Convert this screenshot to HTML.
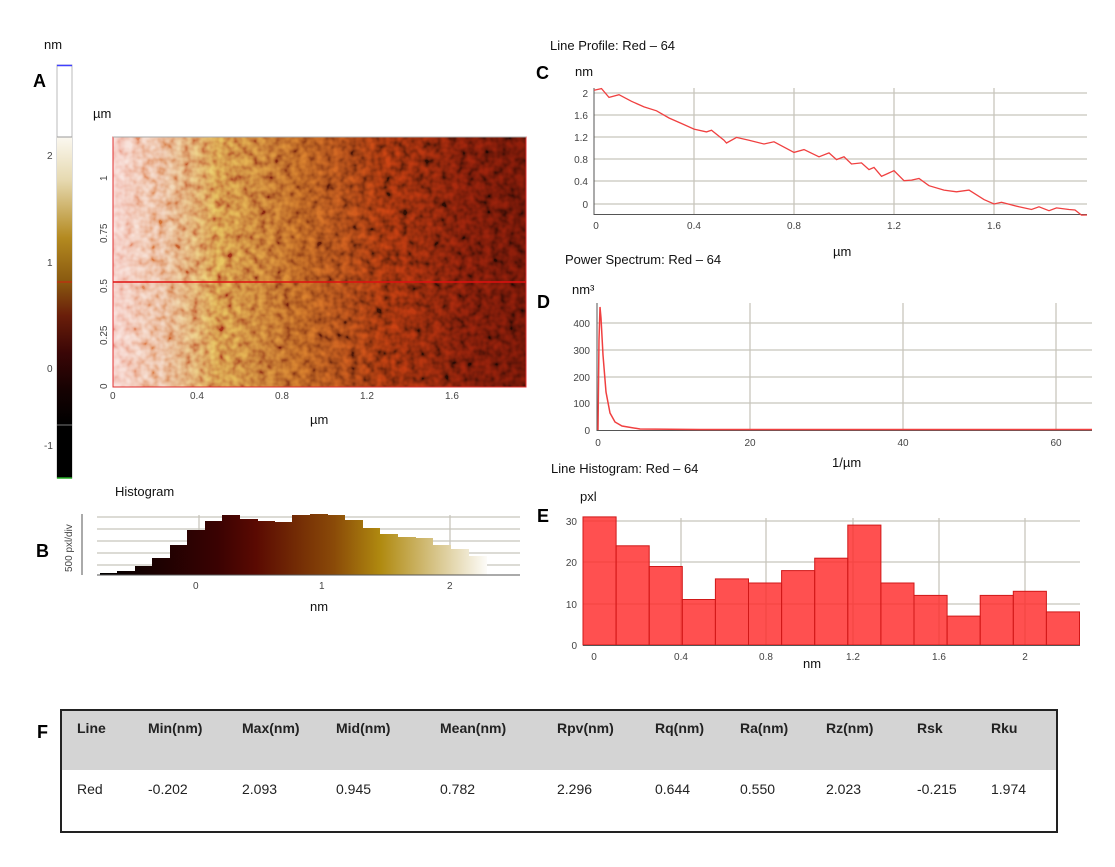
<!DOCTYPE html>
<html><head><meta charset="utf-8"><style>
html,body{margin:0;padding:0;background:#fff;}
svg{display:block;font-family:"Liberation Sans",sans-serif;}
.t{font-size:10px;fill:#444;}
.l{font-size:13px;fill:#111;}
.p{font-size:18px;font-weight:bold;fill:#000;}
.g{stroke:#c8c5bc;stroke-width:1.3;}
</style></head><body>
<svg width="1115" height="867" viewBox="0 0 1115 867">
<defs>
<linearGradient id="afm" x1="0" x2="1" y1="0" y2="0">
<stop offset="0" stop-color="#f4c4bc"/><stop offset="0.1" stop-color="#e8ac88"/><stop offset="0.25" stop-color="#cc8040"/><stop offset="0.45" stop-color="#a8541e"/><stop offset="0.65" stop-color="#842c0c"/><stop offset="0.85" stop-color="#681808"/><stop offset="1" stop-color="#5a1206"/></linearGradient>
<linearGradient id="cb" x1="0" x2="0" y1="0" y2="1">
<stop offset="0" stop-color="#fbf8f0"/><stop offset="0.15" stop-color="#e6d9b0"/><stop offset="0.35" stop-color="#b48a20"/><stop offset="0.5" stop-color="#8a5a10"/><stop offset="0.62" stop-color="#6a1e0a"/><stop offset="0.75" stop-color="#3a0606"/><stop offset="0.88" stop-color="#150202"/><stop offset="1" stop-color="#000"/></linearGradient>
<linearGradient id="hb" x1="100" x2="490" y1="0" y2="0" gradientUnits="userSpaceOnUse">
<stop offset="0" stop-color="#000"/><stop offset="0.3" stop-color="#3a0202"/><stop offset="0.4" stop-color="#5a0a02"/><stop offset="0.6" stop-color="#8a4a08"/><stop offset="0.72" stop-color="#b08a10"/><stop offset="0.85" stop-color="#d4c080"/><stop offset="1" stop-color="#fff"/></linearGradient>
<filter id="nz" x="0" y="0" width="100%" height="100%">
<feTurbulence type="fractalNoise" baseFrequency="0.12" numOctaves="2" seed="3"/>
<feColorMatrix type="matrix" values="1.6 0 0 0 -0.3 1.6 0 0 0 -0.3 1.6 0 0 0 -0.3 0 0 0 0 1"/>
</filter>
</defs>

<!-- Panel A -->
<text x="44" y="49" class="l">nm</text>
<text x="33" y="87" class="p">A</text>
<rect x="57" y="65" width="15" height="413" fill="#fff" stroke="#bbb"/>
<line x1="57" y1="65.5" x2="72" y2="65.5" stroke="#4040ff" stroke-width="1.5"/>
<rect x="57" y="137" width="15" height="288" fill="url(#cb)"/>
<rect x="57" y="425" width="15" height="53" fill="#000"/>
<line x1="57" y1="137" x2="72" y2="137" stroke="#999"/>
<line x1="57" y1="425" x2="72" y2="425" stroke="#777"/>
<line x1="57" y1="282" x2="72" y2="282" stroke="#d02010"/>
<line x1="57" y1="478" x2="72" y2="478" stroke="#2a2" stroke-width="1.5"/>
<text x="47" y="159" class="t">2</text><text x="47" y="266" class="t">1</text><text x="47" y="372" class="t">0</text><text x="44" y="449" class="t">-1</text>

<text x="93" y="118" class="l">µm</text>
<rect x="113" y="137" width="413" height="250" fill="url(#afm)"/>
<rect x="113" y="137" width="413" height="250" filter="url(#nz)" opacity="0.6" style="mix-blend-mode:overlay"/>
<rect x="113" y="137" width="413" height="250" fill="none" stroke="#e03030" stroke-width="1"/>
<line x1="113" y1="137" x2="526" y2="137" stroke="#aaa"/>
<line x1="113" y1="282" x2="526" y2="282" stroke="#e01010" stroke-width="1.5"/>
<g class="t">
<text x="110" y="399">0</text><text x="190" y="399">0.4</text><text x="275" y="399">0.8</text><text x="360" y="399">1.2</text><text x="445" y="399">1.6</text>
<text transform="translate(107,181) rotate(-90)">1</text>
<text transform="translate(107,243) rotate(-90)">0.75</text>
<text transform="translate(107,293) rotate(-90)">0.5</text>
<text transform="translate(107,345) rotate(-90)">0.25</text>
<text transform="translate(107,389) rotate(-90)">0</text>
</g>
<text x="310" y="424" class="l">µm</text>

<!-- Panel B -->
<text x="115" y="496" class="l">Histogram</text>
<text x="36" y="557" class="p">B</text>
<g class="g">
<line x1="97" y1="517" x2="520" y2="517"/><line x1="97" y1="529" x2="520" y2="529"/><line x1="97" y1="541" x2="520" y2="541"/><line x1="97" y1="553" x2="520" y2="553"/><line x1="97" y1="565" x2="520" y2="565"/>
<line x1="199" y1="515" x2="199" y2="575"/><line x1="450" y1="515" x2="450" y2="575"/>
</g>
<path fill="url(#hb)" d="M100 575 V573 H117 V571 H135 V566 H152 V558 H170 V545 H187 V530 H205 V521 H222 V515 H240 V519 H258 V521 H275 V522 H292 V515 H310 V514 H328 V515 H345 V520 H363 V528 H380 V534 H398 V537 H416 V538 H433 V545 H451 V549 H469 V556 H487 V575 Z"/>
<line x1="97" y1="575" x2="520" y2="575" stroke="#555"/>
<line x1="82" y1="514" x2="82" y2="575" stroke="#555"/>
<text transform="translate(72,572) rotate(-90)" class="t">500 pxl/div</text>
<g class="t"><text x="193" y="589">0</text><text x="319" y="589">1</text><text x="447" y="589">2</text></g>
<text x="310" y="611" class="l">nm</text>

<!-- Panel C -->
<text x="550" y="50" class="l">Line Profile: Red – 64</text>
<text x="536" y="79" class="p">C</text>
<text x="575" y="76" class="l">nm</text>
<g class="g">
<line x1="594" y1="93" x2="1087" y2="93"/><line x1="594" y1="115" x2="1087" y2="115"/><line x1="594" y1="137" x2="1087" y2="137"/><line x1="594" y1="159" x2="1087" y2="159"/><line x1="594" y1="181" x2="1087" y2="181"/><line x1="594" y1="204" x2="1087" y2="204"/>
<line x1="694" y1="88" x2="694" y2="214"/><line x1="794" y1="88" x2="794" y2="214"/><line x1="894" y1="88" x2="894" y2="214"/><line x1="994" y1="88" x2="994" y2="214"/>
</g>
<line x1="594" y1="88" x2="594" y2="215" stroke="#555"/><line x1="594" y1="214.5" x2="1087" y2="214.5" stroke="#555"/>
<polyline fill="none" stroke="#f04040" stroke-width="1.3" points="594,90.2 601.5,88.6 609,97.4 619,94.7 631.5,101.3 644,106.9 656.5,110.8 669,118 681.5,123.5 694,129.1 706.5,131.9 711.5,130.2 724,140.2 726.5,143 736.5,137.4 749,140.2 764,144 774,141.8 794,152.4 804,149.6 819,156.8 829,152.9 836.5,159.6 844,156.8 851.5,164 861.5,162.9 869,169.6 874,167.4 881.5,176.3 894,170.7 904,180.7 911.5,180.1 919,178.5 929,185.7 944,190.1 956.5,191.8 969,190.1 984,199.6 994,204 1001.5,202.3 1019,206.8 1031.5,209.5 1039,206.8 1049,210.7 1056.5,207.9 1069,209.5 1075,210 1081.5,215.1 1087,215"/>
<g class="t" text-anchor="end"><text x="588" y="97">2</text><text x="588" y="119">1.6</text><text x="588" y="141">1.2</text><text x="588" y="163">0.8</text><text x="588" y="185">0.4</text><text x="588" y="208">0</text></g>
<g class="t" text-anchor="middle"><text x="596" y="229">0</text><text x="694" y="229">0.4</text><text x="794" y="229">0.8</text><text x="894" y="229">1.2</text><text x="994" y="229">1.6</text></g>
<text x="833" y="256" class="l">µm</text>

<!-- Panel D -->
<text x="565" y="264" class="l">Power Spectrum: Red – 64</text>
<text x="537" y="308" class="p">D</text>
<text x="572" y="294" class="l">nm³</text>
<g class="g">
<line x1="597" y1="323" x2="1092" y2="323"/><line x1="597" y1="350" x2="1092" y2="350"/><line x1="597" y1="377" x2="1092" y2="377"/><line x1="597" y1="403" x2="1092" y2="403"/>
<line x1="750" y1="303" x2="750" y2="430"/><line x1="903" y1="303" x2="903" y2="430"/><line x1="1056" y1="303" x2="1056" y2="430"/>
</g>
<line x1="597" y1="303" x2="597" y2="431" stroke="#555"/><line x1="597" y1="430.5" x2="1092" y2="430.5" stroke="#555"/>
<polyline fill="none" stroke="#f04040" stroke-width="1.5" points="598,430 599,340 600,307 601,318 603,355 606,392 610,413 615,422 622,426 640,429 700,429.5 1092,429.5"/>
<g class="t" text-anchor="end"><text x="590" y="327">400</text><text x="590" y="354">300</text><text x="590" y="381">200</text><text x="590" y="407">100</text><text x="590" y="434">0</text></g>
<g class="t" text-anchor="middle"><text x="598" y="446">0</text><text x="750" y="446">20</text><text x="903" y="446">40</text><text x="1056" y="446">60</text></g>
<text x="832" y="467" class="l">1/µm</text>

<!-- Panel E -->
<text x="551" y="473" class="l">Line Histogram: Red – 64</text>
<text x="537" y="522" class="p">E</text>
<text x="580" y="501" class="l">pxl</text>
<g class="g">
<line x1="583" y1="521" x2="1080" y2="521"/><line x1="583" y1="562" x2="1080" y2="562"/><line x1="583" y1="604" x2="1080" y2="604"/>
<line x1="681" y1="518" x2="681" y2="645"/><line x1="766" y1="518" x2="766" y2="645"/><line x1="853" y1="518" x2="853" y2="645"/><line x1="939" y1="518" x2="939" y2="645"/><line x1="1025" y1="518" x2="1025" y2="645"/>
</g>
<g fill="#ff2a2a" fill-opacity="0.82" stroke="#d01818" stroke-width="1">
<rect x="583" y="516.9" width="33.1" height="128.1"/>
<rect x="616.1" y="545.8" width="33.1" height="99.2"/>
<rect x="649.2" y="566.5" width="33.1" height="78.5"/>
<rect x="682.3" y="599.5" width="33.1" height="45.5"/>
<rect x="715.4" y="578.9" width="33.1" height="66.1"/>
<rect x="748.5" y="583" width="33.1" height="62"/>
<rect x="781.6" y="570.6" width="33.1" height="74.4"/>
<rect x="814.7" y="558.2" width="33.1" height="86.8"/>
<rect x="847.8" y="525.1" width="33.1" height="119.9"/>
<rect x="880.9" y="583" width="33.1" height="62"/>
<rect x="914" y="595.4" width="33.1" height="49.6"/>
<rect x="947.1" y="616.1" width="33.1" height="28.9"/>
<rect x="980.2" y="595.4" width="33.1" height="49.6"/>
<rect x="1013.3" y="591.3" width="33.1" height="53.7"/>
<rect x="1046.4" y="611.9" width="33.1" height="33.1"/>
</g>
<line x1="583" y1="645.5" x2="1080" y2="645.5" stroke="#555"/>
<g class="t" text-anchor="end"><text x="577" y="525">30</text><text x="577" y="566">20</text><text x="577" y="608">10</text><text x="577" y="649">0</text></g>
<g class="t" text-anchor="middle"><text x="594" y="660">0</text><text x="681" y="660">0.4</text><text x="766" y="660">0.8</text><text x="853" y="660">1.2</text><text x="939" y="660">1.6</text><text x="1025" y="660">2</text></g>
<text x="803" y="668" class="l">nm</text>

<!-- Panel F -->
<text x="37" y="738" class="p">F</text>
<rect x="61" y="710" width="996" height="122" fill="#fff" stroke="#222" stroke-width="2"/>
<rect x="62" y="711" width="994" height="59" fill="#d4d4d4"/>
<g font-size="14" font-weight="bold" fill="#222">
<text x="77" y="733">Line</text><text x="148" y="733">Min(nm)</text><text x="242" y="733">Max(nm)</text><text x="336" y="733">Mid(nm)</text><text x="440" y="733">Mean(nm)</text><text x="557" y="733">Rpv(nm)</text><text x="655" y="733">Rq(nm)</text><text x="740" y="733">Ra(nm)</text><text x="826" y="733">Rz(nm)</text><text x="917" y="733">Rsk</text><text x="991" y="733">Rku</text>
</g>
<g font-size="14" fill="#222">
<text x="77" y="794">Red</text><text x="148" y="794">-0.202</text><text x="242" y="794">2.093</text><text x="336" y="794">0.945</text><text x="440" y="794">0.782</text><text x="557" y="794">2.296</text><text x="655" y="794">0.644</text><text x="740" y="794">0.550</text><text x="826" y="794">2.023</text><text x="917" y="794">-0.215</text><text x="991" y="794">1.974</text>
</g>
</svg>
</body></html>
